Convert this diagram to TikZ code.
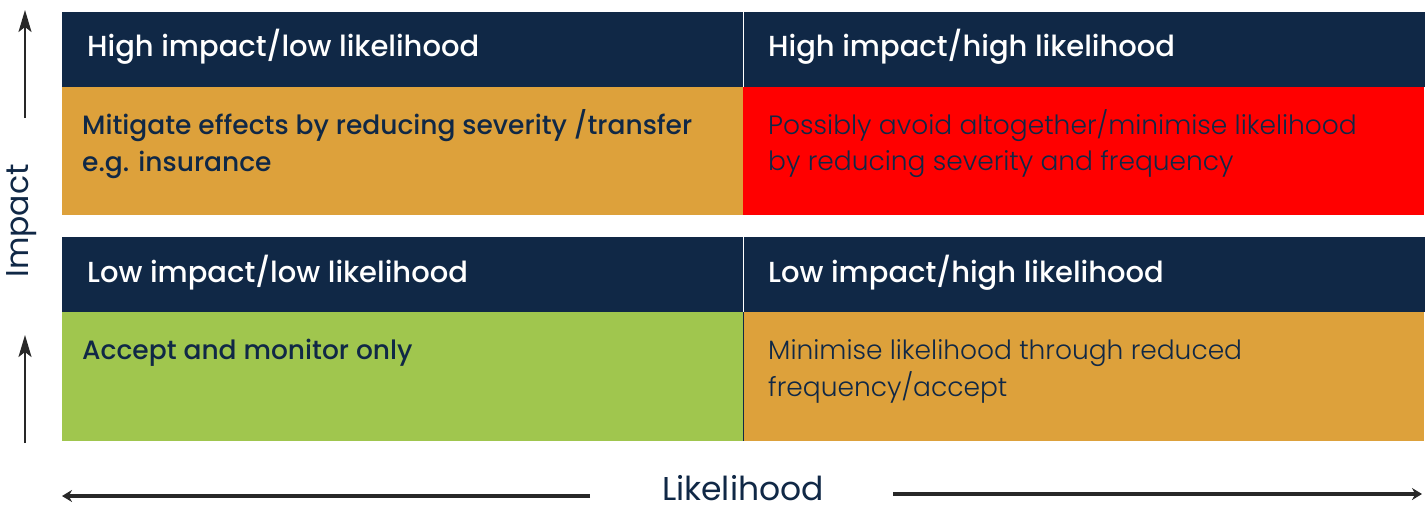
\documentclass[tikz,border=0pt]{standalone}
\usepackage{fontspec}
\setmainfont{Poppins}
\newfontfamily\medfont{Poppins Medium}
\newfontfamily\litefont{Poppins Light}
\usetikzlibrary{arrows.meta}
\definecolor{navy}{RGB}{16,40,70}
\definecolor{amber}{RGB}{221,161,59}
\definecolor{redcell}{RGB}{255,0,0}
\definecolor{greencell}{RGB}{160,198,78}
\definecolor{arrowgray}{RGB}{40,40,40}
\tikzset{
  cell/.style={inner sep=0pt, outer sep=0pt, anchor=north west, draw=none, minimum width=681pt},
  headbox/.style={cell, fill=navy, minimum height=75pt},
  bodybox/.style={cell, minimum height=128pt},
  headtext/.style={anchor=base west, inner sep=0pt, text=white, font=\medfont\fontsize{29}{34}\selectfont},
  bodytext/.style={anchor=base west, inner sep=0pt, text=navy, font=\medfont\fontsize{26.5}{32}\selectfont},
  litetext/.style={anchor=base west, inner sep=0pt, text=navy, font=\litefont\fontsize{26.5}{32}\selectfont},
  axistext/.style={inner sep=0pt, text=navy, font=\fontsize{31.5}{36}\selectfont},
  axisarrow/.style={draw=arrowgray, line width=2pt, -{Stealth[length=22pt,width=13pt,inset=5pt]}},
  baseline arrow/.style={draw=arrowgray, line width=3.5pt, -{Stealth[length=10pt,width=12pt]}}
}
\begin{document}
\begin{tikzpicture}[x=1pt,y=-1pt]
\useasboundingbox (0,0) rectangle (1427,504);
% cells
\node[headbox] (hHL) at (62,12) {};
\node[headbox] (hHH) at (744,12) {};
\node[bodybox, fill=amber] (bHL) at (62,87) {};
\node[bodybox, fill=redcell] (bHH) at (743,87) {};
\node[headbox] (hLL) at (62,237) {};
\node[headbox] (hLH) at (744,237) {};
\node[bodybox, fill=greencell, minimum height=129pt] (bLL) at (62,312) {};
\node[bodybox, fill=amber, minimum height=129pt] (bLH) at (743,312) {};
\draw[navy, line width=1pt] (bLL.north east) -- (bLL.south east);
% header texts
\node[headtext] (tHL) at (87,56) {High impact/low likelihood};
\node[headtext] (tHH) at (768,56) {High impact/high likelihood};
\node[headtext] (tLL) at (87,282) {Low impact/low likelihood};
\node[headtext] (tLH) at (768,282) {Low impact/high likelihood};
% body texts
\node[bodytext] (xHLa) at (82,134) {Mitigate effects by reducing severity /transfer};
\node[bodytext] (xHLb) at (82,171) {e.g. insurance};
\node[litetext] (xHHa) at (768,134) {Possibly avoid altogether/minimise likelihood};
\node[litetext] (xHHb) at (768,170) {by reducing severity and frequency};
\node[bodytext] (xLL) at (82,359) {Accept and monitor only};
\node[litetext] (xLHa) at (768,359) {Minimise likelihood through reduced};
\node[litetext] (xLHb) at (768,396) {frequency/accept};
% axes
\node[axistext, rotate=90, anchor=center] (impact) at (22,221) {Impact};
\coordinate (i1s) at (25,118);
\coordinate (i1e) at (25,10);
\coordinate (i2s) at (25,443);
\coordinate (i2e) at (25,335);
\draw[axisarrow] (i1s) -- (i1e);
\draw[axisarrow] (i2s) -- (i2e);
\node[axistext, anchor=base, font=\fontsize{33}{38}\selectfont] (likelihood) at (743,500) {Likelihood};
\coordinate (l1s) at (590,496);
\coordinate (l1e) at (62,496);
\coordinate (l2s) at (893,494);
\coordinate (l2e) at (1422,494);
\draw[baseline arrow] (l1s) -- (l1e);
\draw[baseline arrow] (l2s) -- (l2e);
\end{tikzpicture}
\end{document}
